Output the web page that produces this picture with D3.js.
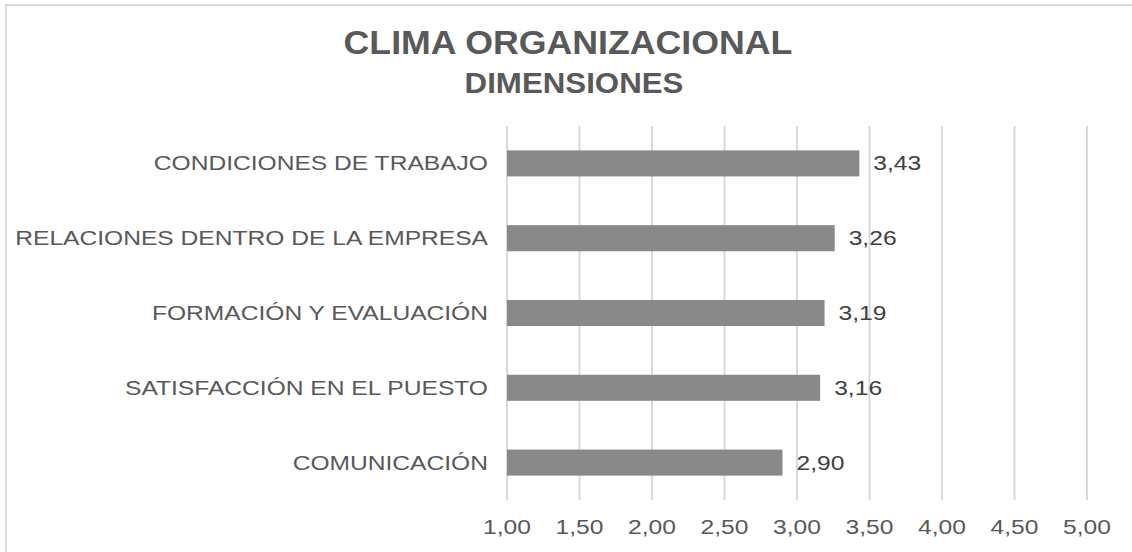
<!DOCTYPE html>
<html>
<head>
<meta charset="utf-8">
<script src="https://cdn.jsdelivr.net/npm/d3@7"></script>
<style>
	body { margin: 0; background: #fff; }
	text { font-family: "Liberation Sans", Arial, sans-serif; }
</style>
</head>
<body>
<div class="svg-container"></div>
<script>
var categories = ['CONDICIONES DE TRABAJO', 'RELACIONES DENTRO DE LA EMPRESA',
	'FORMACIÓN Y EVALUACIÓN', 'SATISFACCIÓN EN EL PUESTO', 'COMUNICACIÓN'];
var values = [3.43, 3.26, 3.19, 3.16, 2.90];
var ticks = [1.00, 1.50, 2.00, 2.50, 3.00, 3.50, 4.00, 4.50, 5.00];
var title = 'CLIMA ORGANIZACIONAL';
var subtitle = 'DIMENSIONES';

var width = 1132;
var height = 552;
var stretch = 1.23; // the small text in the original is wider than plain Arial
var fmt = function(v) { return d3.format('.2f')(v).replace('.', ','); };

var svg = d3.select('.svg-container')
	.append('svg')
	.attr('width', width)
	.attr('height', height);

// Frame (only top and left edges visible)
svg.append('rect')
	.attr('x', 6)
	.attr('y', 5)
	.attr('width', width + 20)
	.attr('height', height + 20)
	.attr('fill', 'none')
	.attr('stroke', '#d9d9d9')
	.attr('stroke-width', 2);

// Titles
svg.append('text')
	.attr('transform', 'translate(568,54) scale(1.05,1)')
	.attr('text-anchor', 'middle')
	.attr('font-size', 34)
	.attr('font-weight', 'bold')
	.attr('fill', '#595959')
	.text(title);

svg.append('text')
	.attr('transform', 'translate(574,93) scale(1.06,1)')
	.attr('text-anchor', 'middle')
	.attr('font-size', 29.5)
	.attr('font-weight', 'bold')
	.attr('fill', '#595959')
	.text(subtitle);

// Scales
var xScale = d3.scaleLinear()
	.domain([1, 5])
	.range([507, 1087]);

var yScale = d3.scaleBand()
	.domain(categories)
	.range([126, 500])
	.paddingInner(0.652)
	.paddingOuter(0.326);

// Gridlines
svg.append('g')
	.selectAll('line')
	.data(ticks)
	.enter()
	.append('line')
	.attr('x1', function(d) { return xScale(d); })
	.attr('x2', function(d) { return xScale(d); })
	.attr('y1', 126)
	.attr('y2', 500)
	.attr('stroke', '#d9d9d9')
	.attr('stroke-width', 2);

// Bars
svg.append('g')
	.selectAll('rect')
	.data(values)
	.enter()
	.append('rect')
	.attr('x', xScale(1))
	.attr('y', function(d, i) { return yScale(categories[i]); })
	.attr('width', function(d) { return xScale(d) - xScale(1); })
	.attr('height', yScale.bandwidth())
	.attr('fill', '#898989');

// Value labels
svg.append('g')
	.selectAll('text')
	.data(values)
	.enter()
	.append('text')
	.attr('transform', function(d, i) {
		var y = yScale(categories[i]) + yScale.bandwidth() / 2 + 7;
		return 'translate(' + (xScale(d) + 14) + ',' + y + ') scale(' + stretch + ',1)';
	})
	.attr('font-size', 20)
	.attr('fill', '#404040')
	.text(fmt);

// Category labels
svg.append('g')
	.selectAll('text')
	.data(categories)
	.enter()
	.append('text')
	.attr('transform', function(d) {
		var y = yScale(d) + yScale.bandwidth() / 2 + 7;
		return 'translate(488,' + y + ') scale(' + stretch + ',1)';
	})
	.attr('text-anchor', 'end')
	.attr('font-size', 20)
	.attr('fill', '#595959')
	.text(function(d) { return d; });

// X axis tick labels
svg.append('g')
	.selectAll('text')
	.data(ticks)
	.enter()
	.append('text')
	.attr('transform', function(d) {
		return 'translate(' + xScale(d) + ',534) scale(' + stretch + ',1)';
	})
	.attr('text-anchor', 'middle')
	.attr('font-size', 20)
	.attr('fill', '#595959')
	.text(fmt);
</script>
</body>
</html>
